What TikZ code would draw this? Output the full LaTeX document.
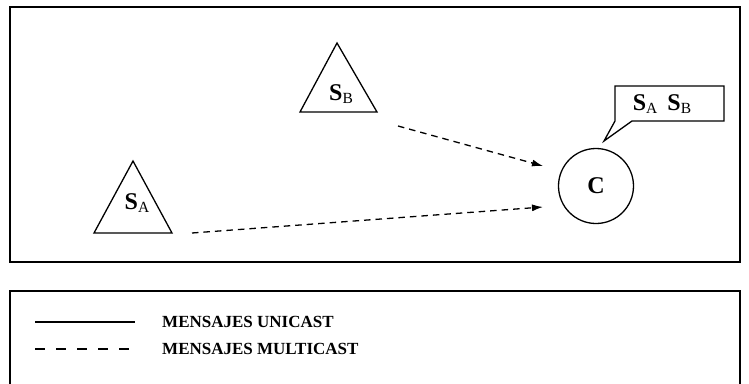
\documentclass[tikz,border=0pt]{standalone}
\usepackage{fontspec}
\setmainfont{Liberation Serif}
\usetikzlibrary{arrows.meta}
\begin{document}
\begin{tikzpicture}[x=1pt,y=-1pt,
  frame/.style={draw,line width=1.2pt},
  shp/.style={draw,line width=1.3pt},
  msg/.style={draw,line width=1.3pt,dash pattern=on 6.5pt off 5pt,-{Latex[length=11pt,width=7pt]}},
  legtext/.style={anchor=west,font=\fontsize{17}{18}\selectfont\bfseries,inner sep=0pt},
  big/.style={font=\fontsize{24}{25}\selectfont\bfseries,inner sep=0pt}]
\newcommand{\sublab}[1]{\raisebox{-3.5pt}{\fontsize{15.5}{16}\selectfont\mdseries #1}}
\useasboundingbox (0,0) rectangle (749,383);
\draw[frame] (10,7) rectangle (740,262);
\draw[frame] (10,291) rectangle (740,400);
% triangles
\draw[shp] (337,43) -- (377,112) -- (300,112) -- cycle;
\node[big] (sb) at (341,94) {S\sublab{B}};
\draw[shp] (133,161) -- (172,233) -- (94,233) -- cycle;
\node[big] (sa) at (137,203) {S\sublab{A}};
\coordinate (sbout) at (398,126);
\coordinate (saout) at (192,233);
% circle
\node[shp,circle,minimum size=75pt,inner sep=0pt] (c) at (596,186) {};
\node[big] (cl) at (596,186) {C};
\coordinate (cin1) at (543,166);
\coordinate (cin2) at (543,207);
\draw[msg] (sbout) -- (cin1);
\draw[msg] (saout) -- (cin2);
% callout
\draw[shp] (615,121) -- (615,86) -- (724,86) -- (724,121) -- (632,121) -- (604,141) -- cycle;
\node[big,anchor=center] (lab) at (662,104) {S\sublab{A}\hspace{10pt}S\sublab{B}};
% legend
\coordinate (l1a) at (35,322); \coordinate (l1b) at (135,322);
\coordinate (l2a) at (35,349); \coordinate (l2b) at (130,349);
\draw[line width=1.3pt] (l1a) -- (l1b);
\draw[line width=1.3pt,dash pattern=on 10pt off 11pt] (l2a) -- (l2b);
\node[legtext] (t1) at (162,322) {MENSAJES UNICAST};
\node[legtext] (t2) at (162,349) {MENSAJES MULTICAST};
\end{tikzpicture}
\end{document}
